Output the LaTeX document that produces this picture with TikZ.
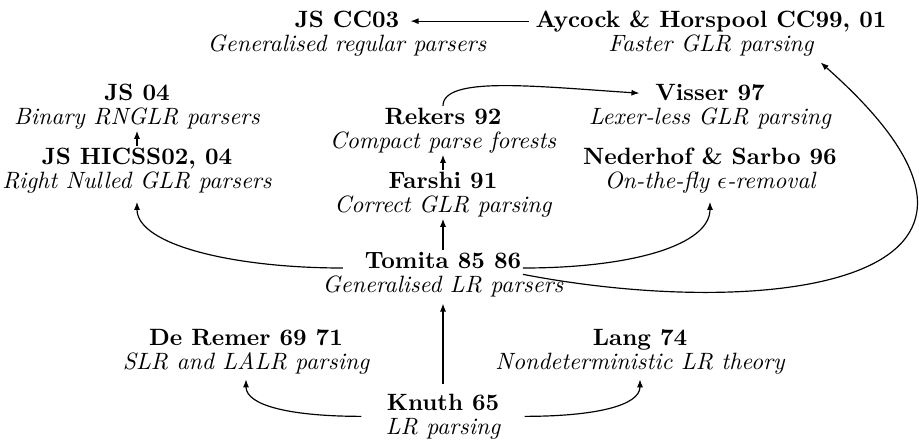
\documentclass[tikz,border=0pt]{standalone}
\usepackage{tikz}
\usetikzlibrary{arrows.meta,positioning,calc}
\tikzset{
  ttl/.style={font=\bfseries,inner sep=.55pt,text height=6.9pt,text depth=1.94pt,anchor=base},
  sub/.style={font=\itshape,inner sep=.55pt,text height=6.9pt,text depth=1.94pt},
  cite/.style={-{Latex[length=1.2mm,width=.9mm]},line width=.5pt}
}
\begin{document}
\begin{tikzpicture}[x=.4237pt,y=.4237pt,node distance=0pt]
  \useasboundingbox (0,0) rectangle (919,-446);
  % top row
  \node[ttl] (cc03) at (347,-27) {JS CC03};
  \node[sub,below=of cc03] (cc03sub) {Generalised regular parsers};
  \node[ttl] (aycock) at (711,-27) {Aycock \& Horspool CC99, 01};
  \node[sub,below=of aycock] (aycocksub) {Faster GLR parsing};
  % left column
  \node[ttl] (js04) at (137,-100) {JS 04};
  \node[sub,below=of js04] (js04sub) {Binary RNGLR parsers};
  \node[ttl] (hicss) at (137,-164) {JS HICSS02, 04};
  \node[sub,below=of hicss] (hicsssub) {Right Nulled GLR parsers};
  % middle column
  \node[ttl] (rekers) at (443,-124) {Rekers 92};
  \node[sub,below=of rekers] (rekerssub) {Compact parse forests};
  \node[ttl] (farshi) at (443,-188) {Farshi 91};
  \node[sub,below=of farshi] (farshisub) {Correct GLR parsing};
  \node[ttl] (tomita) at (443,-268) {Tomita 85 86};
  \node[sub,below=of tomita] (tomitasub) {Generalised LR parsers};
  % right column
  \node[ttl] (visser) at (710,-100) {Visser 97};
  \node[sub,below=of visser] (vissersub) {Lexer-less GLR parsing};
  \node[ttl] (nederhof) at (710,-164) {Nederhof \& Sarbo 96};
  \node[sub,below=of nederhof] (nederhofsub) {On-the-fly $\epsilon$-removal};
  % bottom
  \node[ttl] (deremer) at (246,-345) {De Remer 69 71};
  \node[sub,below=of deremer] (deremersub) {SLR and LALR parsing};
  \node[ttl] (lang) at (640,-345) {Lang 74};
  \node[sub,below=of lang] (langsub) {Nondeterministic LR theory};
  \node[ttl] (knuth) at (443,-410) {Knuth 65};
  \node[sub,below=of knuth] (knuthsub) {LR parsing};
  % straight citations
  \draw[cite,shorten <=2pt,shorten >=4pt] (aycock) -- (cc03);
  \draw[cite] (hicss) -- (js04sub);
  \draw[cite] (farshi) -- (rekerssub);
  \draw[cite] (tomita) -- (farshisub);
  \draw[cite,shorten <=3.5pt,shorten >=2pt] (knuth) -- (tomitasub);
  % curved citations
  \draw[cite,shorten >=6pt] (rekers.north) .. controls +(0,30) and +(-120,8) .. (visser.west);
  \draw[cite,shorten >=3pt] ([xshift=-8.5pt]tomita.base west) .. controls +(-110,0) and +(0,-50) .. (hicsssub.south);
  \draw[cite,shorten >=3pt] (tomita.base east) .. controls +(110,0) and +(0,-50) .. (nederhofsub.south);
  \draw[cite,shorten >=3pt] (tomita.south east) .. controls +(238,-46) and +(260,-230) .. (aycocksub.south east);
  \draw[cite,shorten >=1.5pt] ([xshift=-10pt]knuth.south west) .. controls +(-70,0) and +(0,-30) .. (deremersub.south);
  \draw[cite,shorten >=1.5pt] ([xshift=10pt]knuth.south east) .. controls +(70,0) and +(0,-30) .. (langsub.south);
\end{tikzpicture}
\end{document}
